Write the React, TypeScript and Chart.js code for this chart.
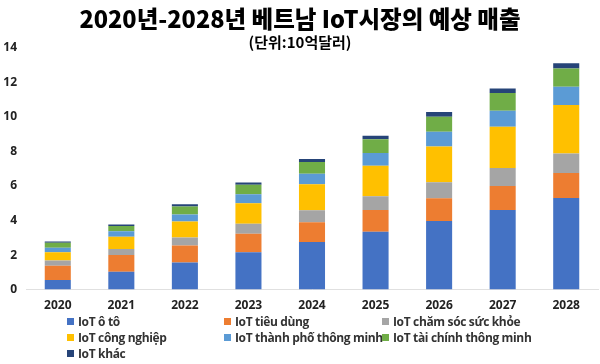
import React, { useEffect, useRef } from "react";
import { Chart, registerables } from "chart.js";

Chart.register(...registerables);

const years = ["2020", "2021", "2022", "2023", "2024", "2025", "2026", "2027", "2028"];
const seriesNames = [
  "IoT ô tô",
  "IoT tiêu dùng",
  "IoT chăm sóc sức khỏe",
  "IoT công nghiệp",
  "IoT thành phố thông minh",
  "IoT tài chính thông minh",
  "IoT khác",
];
const autoIoT = [0.55, 1.04, 1.57, 2.16, 2.76, 3.35, 3.98, 4.61, 5.31];
const consumerIoT = [0.83, 0.96, 0.98, 1.08, 1.14, 1.26, 1.31, 1.39, 1.45];
const healthIoT = [0.31, 0.35, 0.47, 0.57, 0.7, 0.8, 0.93, 1.04, 1.12];
const industrialIoT = [0.47, 0.71, 0.92, 1.19, 1.5, 1.77, 2.07, 2.39, 2.81];
const smartCityIoT = [0.27, 0.32, 0.41, 0.53, 0.62, 0.74, 0.85, 0.94, 1.06];
const fintechIoT = [0.28, 0.31, 0.46, 0.55, 0.67, 0.79, 0.88, 1.02, 1.06];
const otherIoT = [0.08, 0.08, 0.13, 0.12, 0.18, 0.21, 0.27, 0.26, 0.31];
const yTicks = [0, 2, 4, 6, 8, 10, 12, 14];

const seriesValues = [autoIoT, consumerIoT, healthIoT, industrialIoT, smartCityIoT, fintechIoT, otherIoT];
const colors = ["#4472C4", "#ED7D31", "#A5A5A5", "#FFC000", "#5B9BD5", "#70AD47", "#264478"];

const title = "2020년-2028년 베트남 IoT시장의 예상 매출";
const subtitle = "(단위:10억달러)";

export default function App() {
  const ref = useRef<HTMLCanvasElement>(null);
  useEffect(() => {
    document.body.style.margin = "0";
    const ctx = ref.current!;
    const chart = new Chart(ctx, {
      type: "bar",
      data: {
        labels: years,
        datasets: seriesNames.map((name, i) => ({
          label: name,
          data: seriesValues[i],
          backgroundColor: colors[i],
          borderWidth: 0,
          categoryPercentage: 1,
          barPercentage: 0.41,
        })),
      },
      options: {
        responsive: false,
        animation: false,
        layout: { padding: { top: 48, bottom: 42, left: 0, right: 2 } },
        plugins: { legend: { display: false }, title: { display: false }, tooltip: { enabled: false } },
        scales: {
          x: {
            stacked: true,
            grid: { display: false, drawTicks: false },
            border: { display: true, color: "#e0e0e0" },
            ticks: { color: "#222", padding: 9, font: { family: "'Open Sans'", size: 12, weight: "bold" } },
          },
          y: {
            stacked: true,
            min: 0,
            max: 14,
            afterBuildTicks: (s: any) => {
              s.ticks = yTicks.map((v) => ({ value: v }));
            },
            afterFit: (s: any) => {
              s.width = 26;
            },
            grid: { display: false, drawTicks: false },
            border: { display: false },
            ticks: { color: "#222", padding: 9, font: { family: "'Open Sans'", size: 12, weight: "bold" } },
          },
        },
      },
    });
    return () => chart.destroy();
  }, []);

  const legendPos = [
    [67, 321.5], [224, 321.5], [382, 321.5],
    [67, 337.5], [224, 337.5], [382, 337.5],
    [67, 353.5],
  ];

  return (
    <div style={{ position: "relative", width: 600, height: 364, background: "#fff", overflow: "hidden" }}>
      <canvas ref={ref} width={600} height={364} style={{ position: "absolute", left: 0, top: 0 }} />
      <div
        style={{
          position: "absolute", left: 0, top: 4, width: 600, textAlign: "center",
          fontFamily: "'Noto Sans CJK KR'", fontWeight: 900, fontSize: 23.5, lineHeight: "28px", color: "#000",
        }}
      >
        {title}
      </div>
      <div
        style={{
          position: "absolute", left: 0, top: 33, width: 600, textAlign: "center",
          fontFamily: "'Noto Sans CJK KR'", fontWeight: 700, fontSize: 15, lineHeight: "18px", color: "#000",
        }}
      >
        {subtitle}
      </div>
      {seriesNames.map((name, i) => (
        <div
          key={name}
          style={{
            position: "absolute", left: legendPos[i][0], top: legendPos[i][1] - 9, height: 18,
            display: "flex", alignItems: "center", whiteSpace: "nowrap",
            fontFamily: "'Open Sans'", fontWeight: 700, fontSize: 12, letterSpacing: "-0.35px", color: "#333",
          }}
        >
          <span style={{ display: "inline-block", width: 7, height: 7, background: colors[i], marginRight: 4 }} />
          {name}
        </div>
      ))}
    </div>
  );
}
